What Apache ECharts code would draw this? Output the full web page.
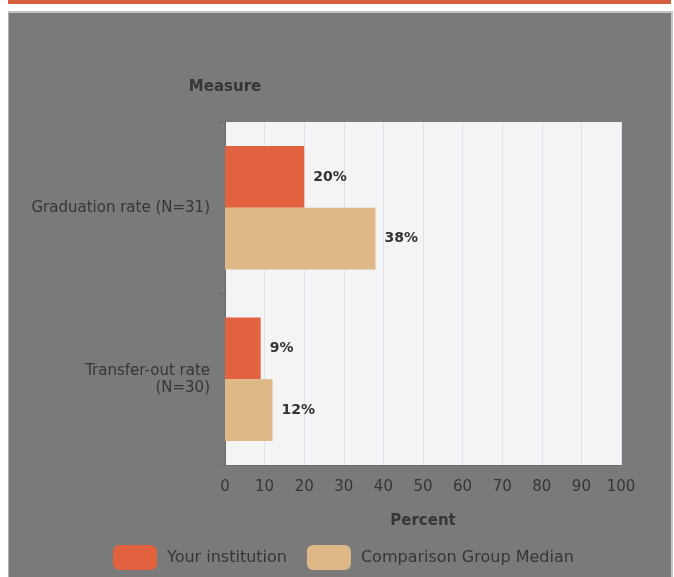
<!DOCTYPE html>
<html>
<head>
<meta charset="utf-8">
<script src="https://cdn.jsdelivr.net/npm/echarts@6/dist/echarts.min.js"></script>
<style>
  html, body { margin: 0; padding: 0; background: #fff; }
  #band { position: absolute; left: 8px; top: 0; width: 663px; height: 4px; background: #d4603f; }
  #panel { position: absolute; left: 8px; top: 11px; width: 662px; height: 566px; background: #7a7a7a;
           border-top: 2px solid #c4c4c4; border-right: 2px solid #c4c4c4; border-left: 1px solid #b0b0b0; }
  #chart { position: absolute; left: 0; top: 0; width: 674px; height: 577px; }
</style>
</head>
<body>
<div id="band"></div>
<div id="panel"></div>
<div id="chart"></div>
<script>
const categories = ['Graduation rate (N=31)', 'Transfer-out rate (N=30)']
const institution = [20, 9]
const groupMedian = [38, 12]
const seriesNames = ['Your institution', 'Comparison Group Median']

const font = 'DejaVu Sans'
const textColor = '#363636'
const labelWidth = 182

// wrap the category label at its last space when it doesn't fit
const measureCtx = document.createElement('canvas').getContext('2d')
measureCtx.font = '15px "DejaVu Sans"'
function wrapLabel(text) {
    if (measureCtx.measureText(text).width <= labelWidth) return text
    const i = text.lastIndexOf(' ')
    return text.slice(0, i) + '\n' + text.slice(i + 1)
}

const myChart = echarts.init(document.getElementById('chart'))
const option = {
    animation: false,
    textStyle: { fontFamily: font },
    grid: {
        left: 225,
        right: 53,
        top: 122,
        bottom: 112,
        show: true,
        backgroundColor: '#f4f4f4',
        borderWidth: 0
    },
    legend: {
        left: 108,
        top: 540,
        itemWidth: 44,
        itemHeight: 25,
        itemGap: 20,
        icon: 'roundRect',
        textStyle: { color: textColor, fontSize: 16, fontFamily: font, padding: [0, 0, 0, 5] },
        data: seriesNames
    },
    xAxis: {
        type: 'value',
        min: 0,
        max: 100,
        interval: 10,
        name: 'Percent',
        nameLocation: 'middle',
        nameGap: 49,
        nameTextStyle: { color: textColor, fontSize: 15, fontWeight: 'bold', fontFamily: font },
        axisLine: { show: true, lineStyle: { color: '#6a6a6a' } },
        axisTick: { show: false },
        axisLabel: { color: textColor, fontSize: 15, margin: 15 },
        splitLine: { show: true, lineStyle: { color: '#dde2f0' } }
    },
    yAxis: {
        type: 'category',
        inverse: true,
        data: categories,
        name: 'Measure',
        nameLocation: 'start',
        nameGap: 27,
        nameTextStyle: { color: textColor, fontSize: 15, fontWeight: 'bold', fontFamily: font, align: 'center' },
        axisLine: { show: true, lineStyle: { color: '#6a6a6a' } },
        axisTick: { show: true, length: 6, lineStyle: { color: '#6a6a6a' } },
        axisLabel: {
            color: textColor, fontSize: 15, margin: 15, lineHeight: 17,
            formatter: wrapLabel
        },
        splitLine: { show: false }
    },
    series: [
        {
            name: seriesNames[0],
            type: 'bar',
            data: institution,
            barGap: 0,
            barCategoryGap: '28%',
            itemStyle: { color: '#e2613e' },
            label: { show: true, position: 'right', distance: 9, formatter: '{c}%',
                     color: '#333', fontSize: 14, fontWeight: 'bold', fontFamily: font }
        },
        {
            name: seriesNames[1],
            type: 'bar',
            data: groupMedian,
            barGap: 0,
            barCategoryGap: '28%',
            itemStyle: { color: '#deb887' },
            label: { show: true, position: 'right', distance: 9, formatter: '{c}%',
                     color: '#333', fontSize: 14, fontWeight: 'bold', fontFamily: font }
        }
    ]
}
myChart.setOption(option)
</script>
</body>
</html>
